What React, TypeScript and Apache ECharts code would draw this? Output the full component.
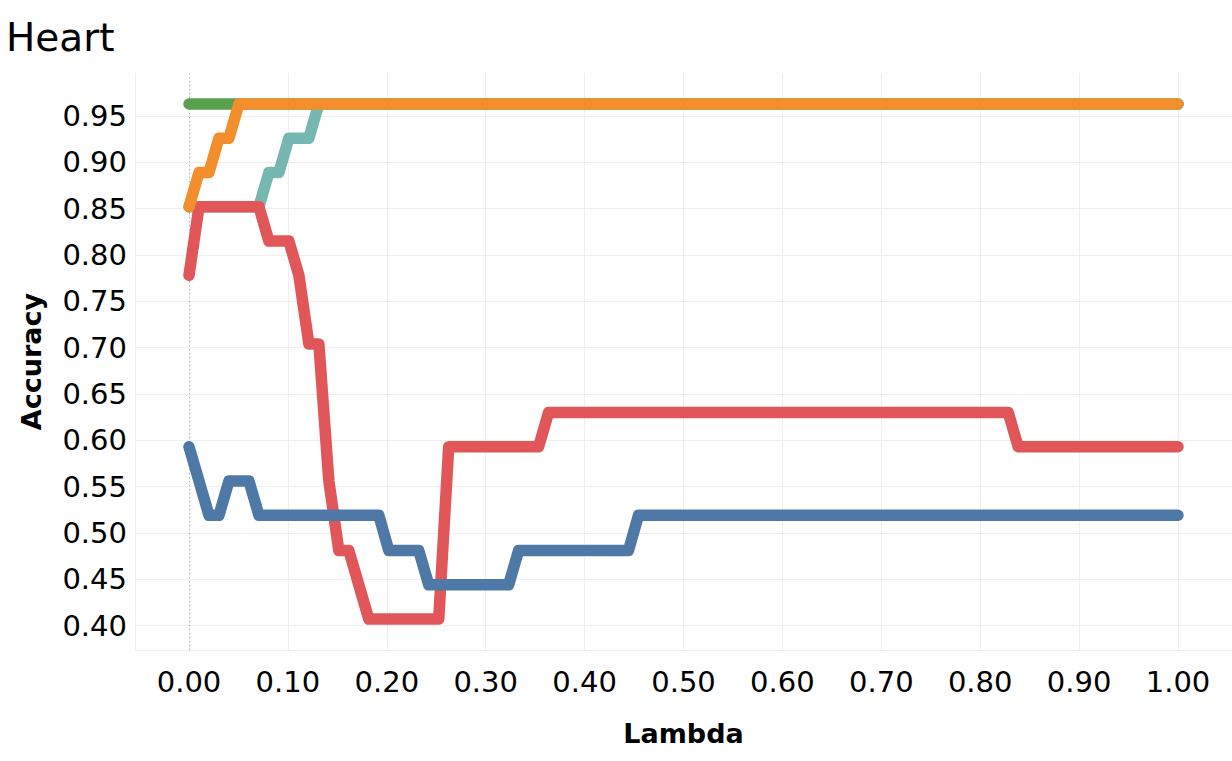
import React, { useEffect, useRef } from "react";
import * as echarts from "echarts";

const titleText = "Heart";
const xName = "Lambda";
const yName = "Accuracy";

// breakpoints of each line (lambda, accuracy); lambda grid has 100 points from 0 to 1
const blueLambda = [0, 0.0101, 0.0202, 0.0303, 0.0404, 0.0606, 0.0707, 0.1919, 0.202, 0.2323, 0.2424, 0.3232, 0.3333, 0.4444, 0.4545, 1.0];
const blueAcc = [0.593, 0.556, 0.519, 0.519, 0.556, 0.556, 0.519, 0.519, 0.481, 0.481, 0.444, 0.444, 0.481, 0.481, 0.519, 0.519];

const redLambda = [0, 0.0101, 0.0707, 0.0808, 0.101, 0.1111, 0.1212, 0.1313, 0.1414, 0.1515, 0.1616, 0.1717, 0.1818, 0.2525, 0.2626, 0.3535, 0.3636, 0.8283, 0.8384, 1.0];
const redAcc = [0.778, 0.852, 0.852, 0.815, 0.815, 0.778, 0.704, 0.704, 0.556, 0.481, 0.481, 0.444, 0.407, 0.407, 0.593, 0.593, 0.63, 0.63, 0.593, 0.593];

const orangeLambda = [0, 0.0101, 0.0202, 0.0303, 0.0404, 0.0505, 1.0];
const orangeAcc = [0.852, 0.889, 0.889, 0.926, 0.926, 0.963, 0.963];

const tealLambda = [0, 0.0707, 0.0808, 0.0909, 0.101, 0.1212, 0.1313, 1.0];
const tealAcc = [0.852, 0.852, 0.889, 0.889, 0.926, 0.926, 0.963, 0.963];

const greenLambda = [0, 1.0];
const greenAcc = [0.963, 0.963];

const FONT = "DejaVu Sans";

function pairs(xs: number[], ys: number[]) {
  return xs.map((x, i) => [x, ys[i]]);
}

function lineSeries(name: string, color: string, xs: number[], ys: number[], extra: any = {}) {
  return {
    name,
    type: "line",
    data: pairs(xs, ys),
    symbol: "none",
    silent: true,
    lineStyle: { color, width: 11.5, cap: "round", join: "round" },
    ...extra,
  };
}

export default function App() {
  const ref = useRef<HTMLDivElement>(null);
  useEffect(() => {
    document.body.style.margin = "0";
    const chart = echarts.init(ref.current!, null, { renderer: "svg" });
    const gridColor = "#efefef";
    chart.setOption({
      animation: false,
      backgroundColor: "#ffffff",
      title: {
        text: titleText,
        left: 1,
        top: 13,
        textStyle: { fontFamily: FONT, fontSize: 39, fontWeight: "normal", color: "#000" },
      },
      grid: { left: 135, right: 0, top: 73, bottom: 111, containLabel: false },
      xAxis: {
        type: "value",
        min: -0.0546,
        max: 1.0546,
        minInterval: 0.1,
        maxInterval: 0.1,
        splitNumber: 11,
        name: xName,
        nameLocation: "middle",
        nameGap: 70,
        nameTextStyle: { fontFamily: FONT, fontSize: 27, fontWeight: "bold", color: "#000" },
        axisLine: { show: false },
        axisTick: { show: false },
        axisLabel: {
          fontFamily: FONT,
          fontSize: 29,
          color: "#000",
          margin: 17,
          showMinLabel: false,
          showMaxLabel: false,
          formatter: (v: number) =>
            Math.abs(v * 10 - Math.round(v * 10)) < 1e-6 ? v.toFixed(2) : "",
        },
        splitLine: { show: true, lineStyle: { color: gridColor, width: 1 } },
      },
      yAxis: {
        type: "value",
        min: 0.3736,
        max: 0.9964,
        minInterval: 0.05,
        maxInterval: 0.05,
        splitNumber: 12,
        name: yName,
        nameLocation: "middle",
        nameGap: 90,
        nameTextStyle: { fontFamily: FONT, fontSize: 27, fontWeight: "bold", color: "#000" },
        axisLine: { show: false },
        axisTick: { show: false },
        axisLabel: {
          fontFamily: FONT,
          fontSize: 29,
          color: "#000",
          margin: 8,
          showMinLabel: false,
          showMaxLabel: false,
          formatter: (v: number) =>
            Math.abs(v * 20 - Math.round(v * 20)) < 1e-6 ? v.toFixed(2) : "",
        },
        splitLine: { show: true, showMaxLine: false, lineStyle: { color: gridColor, width: 1 } },
      },
      series: [
        lineSeries("green", "#59a14f", greenLambda, greenAcc, {
          markLine: {
            silent: true,
            symbol: "none",
            label: { show: false },
            lineStyle: { color: "#aaaaaa", type: [1, 3], width: 1 },
            data: [{ xAxis: 0 }],
            z: 1,
          },
        }),
        lineSeries("teal", "#76b7b2", tealLambda, tealAcc),
        lineSeries("red", "#e15759", redLambda, redAcc),
        lineSeries("blue", "#4e79a7", blueLambda, blueAcc),
        lineSeries("orange", "#f28e2b", orangeLambda, orangeAcc),
      ],
    });
    return () => chart.dispose();
  }, []);
  return <div ref={ref} style={{ width: 1232, height: 761 }} />;
}
